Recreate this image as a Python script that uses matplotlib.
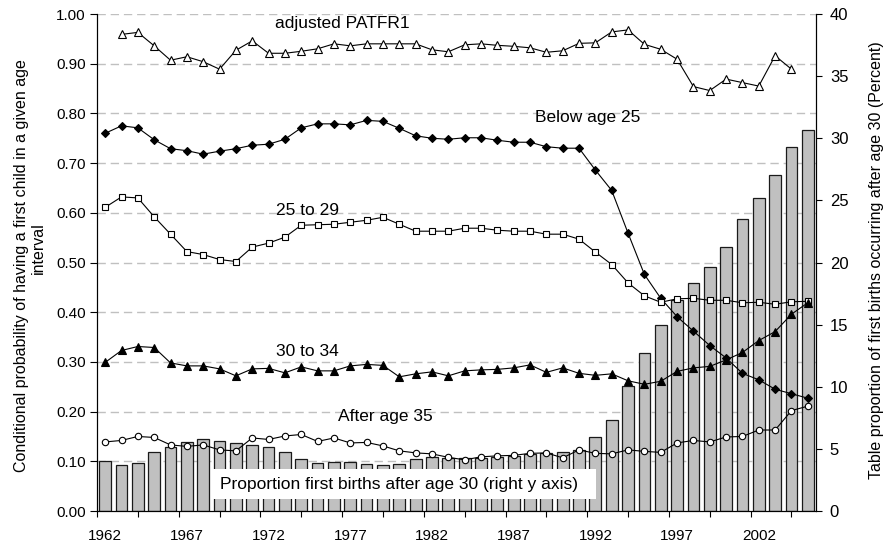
import numpy as np
import matplotlib
matplotlib.use('Agg')
import matplotlib.pyplot as plt
from matplotlib.patches import Rectangle

plt.rcParams['font.family'] = ['Liberation Sans', 'DejaVu Sans']

# categories
years = list(range(1962, 2006))

# conditional probabilities (left axis)
patfr1 = [np.nan,
          0.959, 0.963, 0.936, 0.907, 0.914, 0.904, 0.889, 0.927, 0.946, 0.921, 0.921, 0.925, 0.930, 0.940, 0.936,
          0.940, 0.940, 0.940, 0.940, 0.928, 0.924, 0.938, 0.940, 0.937, 0.935, 0.932, 0.923, 0.926, 0.941, 0.942, 0.964,
          0.968, 0.939, 0.929, 0.909, 0.854, 0.846, 0.869, 0.862, 0.855, 0.916, 0.889,
          np.nan]
below25 = [0.760, 0.775, 0.771, 0.747, 0.729, 0.725, 0.718, 0.724, 0.729, 0.736, 0.738, 0.748, 0.771, 0.779, 0.779, 0.777,
           0.786, 0.784, 0.770, 0.755, 0.750, 0.748, 0.751, 0.751, 0.746, 0.742, 0.742, 0.733, 0.730, 0.730, 0.686, 0.645,
           0.559, 0.476, 0.428, 0.391, 0.362, 0.333, 0.308, 0.277, 0.264, 0.245, 0.236, 0.227]
age25_29 = [0.611, 0.632, 0.630, 0.592, 0.557, 0.522, 0.516, 0.506, 0.502, 0.531, 0.539, 0.551, 0.575, 0.576, 0.577, 0.581,
            0.585, 0.591, 0.577, 0.563, 0.563, 0.563, 0.569, 0.569, 0.565, 0.563, 0.563, 0.557, 0.557, 0.547, 0.521, 0.496,
            0.459, 0.433, 0.420, 0.427, 0.428, 0.424, 0.424, 0.419, 0.420, 0.416, 0.421, 0.422]
age30_34 = [0.299, 0.323, 0.331, 0.329, 0.298, 0.292, 0.292, 0.286, 0.272, 0.286, 0.287, 0.278, 0.290, 0.282, 0.282, 0.292,
            0.295, 0.293, 0.270, 0.276, 0.280, 0.272, 0.282, 0.284, 0.285, 0.288, 0.294, 0.279, 0.288, 0.277, 0.273, 0.276,
            0.262, 0.255, 0.261, 0.281, 0.288, 0.291, 0.304, 0.319, 0.343, 0.361, 0.396, 0.419]
after35 = [0.139, 0.142, 0.150, 0.148, 0.133, 0.130, 0.133, 0.123, 0.121, 0.147, 0.144, 0.151, 0.154, 0.140, 0.147, 0.137,
           0.138, 0.131, 0.121, 0.117, 0.115, 0.108, 0.103, 0.109, 0.111, 0.112, 0.116, 0.117, 0.107, 0.123, 0.116, 0.115,
           0.123, 0.120, 0.118, 0.137, 0.142, 0.139, 0.149, 0.150, 0.163, 0.163, 0.202, 0.211]

# share of first births after age 30, percent (right axis)
pct_after30 = [4.00, 3.68, 3.89, 4.75, 5.13, 5.58, 5.82, 5.66, 5.45, 5.29, 5.13, 4.77, 4.21, 3.86, 3.92, 3.92,
               3.76, 3.68, 3.76, 4.21, 4.35, 4.29, 4.24, 4.26, 4.35, 4.45, 4.56, 4.69, 4.77, 4.91, 5.98, 7.30,
               10.03, 12.74, 15.00, 16.98, 18.37, 19.66, 21.22, 23.50, 25.20, 27.04, 29.27, 30.64]

left_ticks = [0.0, 0.1, 0.2, 0.3, 0.4, 0.5, 0.6, 0.7, 0.8, 0.9, 1.0]
right_ticks = [0, 5, 10, 15, 20, 25, 30, 35, 40]
year_labels = [1962, 1967, 1972, 1977, 1982, 1987, 1992, 1997, 2002]

fig = plt.figure(figsize=(8.85, 5.43), dpi=100)
ax_r = fig.add_axes([0.1096, 0.0589, 0.8124, 0.9153])
ax = ax_r.twinx()  # lines on top of the bars

# bars (right scale)
ax_r.bar(years, pct_after30, width=0.72, color='#C0C0C0', edgecolor='#1a1a1a', linewidth=0.9, zorder=2)
ax_r.set_ylim(0, 40)
ax_r.set_xlim(1961.5, 2005.5)

# dashed gridlines follow the left scale, kept behind the bars
for t in left_ticks[1:]:
    ax_r.axhline(t * 40, color='#C0C0C0', lw=1.0, ls=(0, (6, 3.5)), zorder=0)

# lines (left scale)
ax.plot(years, patfr1, '-', color='k', lw=0.8, marker='^', ms=5.2, mfc='white', mec='k', mew=0.8)
ax.plot(years, below25, '-', color='k', lw=0.8, marker='D', ms=3.7, mfc='k', mec='k', mew=0.8)
ax.plot(years, age25_29, '-', color='k', lw=0.8, marker='s', ms=4.6, mfc='white', mec='k', mew=0.8)
ax.plot(years, age30_34, '-', color='k', lw=0.8, marker='^', ms=5.2, mfc='k', mec='k', mew=0.8)
ax.plot(years, after35, '-', color='k', lw=0.8, marker='o', ms=4.6, mfc='white', mec='k', mew=0.8)
ax.set_ylim(0, 1.0)

# series labels
lab_fs = 12.5
ax.text(1972.4, 0.971, 'adjusted PATFR1', fontsize=lab_fs, va='baseline')
ax.text(1988.3, 0.782, 'Below age 25', fontsize=lab_fs, va='baseline')
ax.text(1972.45, 0.596, '25 to 29', fontsize=lab_fs, va='baseline')
ax.text(1972.45, 0.3125, '30 to 34', fontsize=lab_fs, va='baseline')
ax.text(1976.25, 0.181, 'After age 35', fontsize=lab_fs, va='baseline')

# white text box over the bars
ax.add_patch(Rectangle((1968.6, 0.024), 23.45, 0.0605, facecolor='white', edgecolor='none', zorder=5))
ax.text(1969.0, 0.054, 'Proportion first births after age 30 (right y axis)', fontsize=lab_fs, va='center', zorder=6)

# axes styling
for a in (ax, ax_r):
    a.spines['top'].set_visible(False)
    for s in ('left', 'right', 'bottom'):
        a.spines[s].set_color('k')
        a.spines[s].set_linewidth(0.8)

ax.yaxis.tick_left()
ax_r.yaxis.tick_right()
ax.set_yticks(left_ticks)
ax.set_yticklabels(['%.2f' % t for t in left_ticks])
ax.tick_params(axis='y', direction='out', length=5, width=0.8, pad=3, labelsize=11)

ax_r.set_yticks(right_ticks)
ax_r.tick_params(axis='y', direction='out', length=4, width=0.8, pad=6, labelsize=12)

ax_r.set_xticks(year_labels)
ax_r.set_xticklabels([str(y) for y in year_labels])
ax_r.set_xticks(np.arange(1961.5, 2005.6, 2.5), minor=True)
ax_r.tick_params(axis='x', which='major', length=0, pad=13, labelsize=11)
ax_r.tick_params(axis='x', which='minor', direction='out', length=4, width=0.8)

# axis titles
fig.text(22 / 885, 1 - 266 / 543, 'Conditional probability of having a first child in a given age',
         rotation=90, ha='center', va='center', fontsize=11.5)
fig.text(38 / 885, 1 - 248 / 543, 'interval', rotation=90, ha='center', va='center', fontsize=11.5)
fig.text(876 / 885, 1 - 260 / 543, 'Table proportion of first births occurring after age 30 (Percent)',
         rotation=90, ha='center', va='center', fontsize=11.5)

fig.savefig('out.png', dpi=100)
